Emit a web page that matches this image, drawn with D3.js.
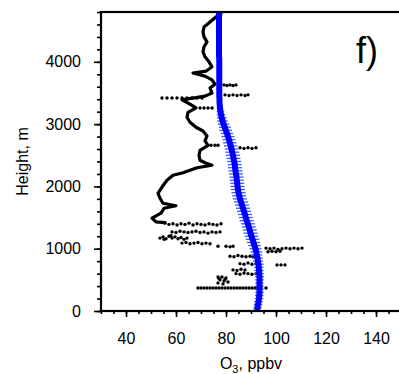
<!DOCTYPE html>
<html>
<head>
<meta charset="utf-8">
<script src="https://cdn.jsdelivr.net/npm/d3@7"></script>
<style>
  body { margin: 0; background: #fff; }
  text { font-family: "Liberation Sans", Arial, sans-serif; }
</style>
</head>
<body>
<div id="chart"></div>
<script>
// tick labels
const xTicks = [40, 60, 80, 100, 120, 140];
const yTicks = [0, 1000, 2000, 3000, 4000];

// observed profile, dense part [O3 ppbv, height m]
const obsProfile = [
  [78.0, 4770], [76.0, 4720], [73.6, 4640], [71.2, 4560], [70.8, 4480], [71.2, 4400],
  [72.4, 4320], [71.2, 4240], [70.8, 4160], [71.6, 4080], [73.2, 4000], [74.4, 3920],
  [72.0, 3850], [66.8, 3820], [71.6, 3770], [74.4, 3710], [75.6, 3640], [73.6, 3580],
  [74.4, 3500], [71.6, 3450], [62.4, 3390], [65.6, 3320], [68.0, 3260], [64.8, 3190],
  [64.4, 3110], [65.6, 3030], [68.0, 2950], [70.8, 2890], [72.4, 2810], [71.6, 2730],
  [72.8, 2660], [69.6, 2580], [69.2, 2500], [69.6, 2420], [71.6, 2380], [74.4, 2340],
  [68.4, 2300], [62.8, 2220], [58.8, 2180], [56.4, 2100], [54.4, 1990], [52.8, 1890],
  [53.6, 1810], [54.8, 1730], [60.0, 1690], [55.2, 1650], [54.8, 1620], [54.0, 1570],
  [50.4, 1490], [52.0, 1430], [55.6, 1420]
];

// observed profile, scattered samples [O3 ppbv, height m]
const obsDots = [
  [79.2, 3630], [80.4, 3620], [81.6, 3630], [82.8, 3620], [84.0, 3630],
  [79.6, 3470], [81.2, 3460], [82.8, 3470], [84.4, 3460], [86.0, 3470], [87.6, 3460], [88.8, 3470],
  [54.4, 3420], [56.4, 3420], [58.4, 3420], [60.4, 3420], [62.4, 3420], [64.4, 3420],
  [66.4, 3420], [68.4, 3420], [70.4, 3420],
  [69.6, 3260], [71.2, 3260], [72.8, 3260], [74.4, 3260],
  [74.0, 2660], [75.6, 2660], [76.8, 2660],
  [85.6, 2620], [87.2, 2610], [88.8, 2620], [90.4, 2610], [92.0, 2620],
  [55.6, 1410], [57.2, 1390], [58.8, 1400], [60.4, 1380], [62.0, 1400], [63.6, 1390],
  [65.2, 1410], [66.8, 1380], [68.4, 1400], [70.0, 1390], [71.6, 1380], [73.2, 1400],
  [74.8, 1390], [76.4, 1380], [78.0, 1400],
  [58.4, 1270], [60.0, 1260], [61.6, 1280], [63.2, 1270], [64.8, 1260], [66.4, 1270],
  [68.0, 1280], [69.6, 1260], [71.2, 1270], [72.8, 1250], [74.4, 1270], [76.0, 1260], [77.6, 1270],
  [53.6, 1170], [54.8, 1190], [56.0, 1160], [57.2, 1200], [58.4, 1170], [59.6, 1190],
  [60.8, 1160], [62.0, 1180], [63.2, 1150], [64.4, 1170], [55.2, 1150], [58.0, 1210],
  [62.4, 1090], [64.0, 1100], [65.6, 1080], [67.2, 1090], [68.8, 1100], [70.4, 1080],
  [72.0, 1090], [73.6, 1080],
  [76.8, 1040], [80.0, 1040], [81.6, 1030], [82.8, 1040],
  [96.0, 1010], [97.6, 1000], [99.2, 1010], [100.8, 990], [102.4, 1000], [104.0, 1010],
  [105.6, 1000], [107.2, 1010], [108.8, 1000], [110.4, 1010],
  [96.8, 950], [98.4, 960], [100.0, 950], [101.6, 960],
  [81.6, 880], [83.2, 870], [84.8, 890], [86.4, 880], [88.0, 870], [89.6, 880], [90.8, 870],
  [85.6, 760], [87.2, 750], [88.8, 770], [90.4, 750], [92.0, 760],
  [100.4, 740], [102.0, 740], [103.6, 740],
  [82.8, 660], [84.4, 650], [86.0, 670], [87.6, 660],
  [84.0, 600], [85.6, 590], [87.2, 610], [88.8, 600], [90.4, 590], [92.0, 600],
  [76.8, 545], [78.4, 545], [80.0, 530], [77.6, 500], [79.2, 480], [80.8, 465],
  [76.8, 450], [78.8, 435], [77.2, 520], [79.6, 505],
  [68.8, 370], [70.0, 370], [71.2, 370], [72.4, 370], [73.6, 370], [74.8, 370],
  [76.0, 370], [77.2, 370], [78.4, 370], [79.6, 370], [80.8, 370], [82.0, 370],
  [83.2, 370], [84.4, 370], [85.6, 370], [86.8, 370], [88.0, 370], [89.2, 370],
  [90.4, 370], [91.6, 370], [92.8, 370], [94.0, 370], [96.0, 370]
];

// model profile: levels (m), ozone (ppbv), spread (ppbv)
const modelLevels = [
  0, 50, 100, 150, 200, 250, 300, 350, 400, 450,
  500, 550, 600, 650, 700, 750, 800, 850, 900, 950,
  1000, 1050, 1100, 1150, 1200, 1250, 1300, 1350, 1400, 1450,
  1500, 1550, 1600, 1650, 1700, 1750, 1800, 1850, 1900, 1950,
  2000, 2050, 2100, 2150, 2200, 2250, 2300, 2350, 2400, 2450,
  2500, 2550, 2600, 2650, 2700, 2750, 2800, 2850, 2900, 2950,
  3000, 3050, 3100, 3150, 3200, 3250, 3300, 3350, 3400, 3450,
  3500, 3550, 3600, 3650, 3700, 3750, 3800, 3850, 3900, 3950,
  4000, 4050, 4100, 4150, 4200, 4250, 4300, 4350, 4400, 4450,
  4500, 4550, 4600, 4650, 4700, 4750, 4800
];
const modelO3 = [
  92.4, 92.6, 92.8, 93.0, 93.2, 93.3, 93.4, 93.4, 93.4, 93.4,
  93.4, 93.4, 93.3, 93.2, 93.1, 93.0, 92.8, 92.6, 92.3, 92.1,
  91.8, 91.4, 91.0, 90.6, 90.2, 89.8, 89.5, 89.1, 88.7, 88.3,
  87.9, 87.6, 87.2, 86.8, 86.4, 86.0, 85.6, 85.3, 85.0, 84.8,
  84.6, 84.5, 84.3, 84.2, 84.0, 83.8, 83.6, 83.5, 83.3, 83.0,
  82.8, 82.5, 82.2, 81.9, 81.5, 81.2, 80.8, 80.4, 79.9, 79.5,
  79.0, 78.6, 78.3, 78.0, 77.8, 77.6, 77.5, 77.4, 77.4, 77.3,
  77.3, 77.3, 77.3, 77.3, 77.3, 77.3, 77.3, 77.3, 77.3, 77.3,
  77.3, 77.3, 77.2, 77.2, 77.2, 77.2, 77.2, 77.2, 77.2, 77.2,
  77.2, 77.2, 77.2, 77.2, 77.2, 77.2, 77.2
];
const modelErr = [
  1.7, 1.7, 1.7, 1.7, 1.7, 1.7, 1.7, 1.7, 1.7, 1.7,
  1.7, 1.8, 1.8, 1.9, 1.9, 2.0, 2.0, 2.1, 2.2, 2.3,
  2.4, 2.5, 2.6, 2.7, 2.7, 2.8, 2.8, 2.8, 2.8, 2.8,
  2.8, 2.8, 2.8, 2.8, 2.8, 2.8, 2.8, 2.8, 2.8, 2.8,
  2.8, 2.8, 2.8, 2.8, 2.8, 2.8, 2.8, 2.8, 2.8, 2.8,
  2.8, 2.8, 2.7, 2.7, 2.7, 2.6, 2.6, 2.5, 2.5, 2.4,
  2.3, 2.1, 1.9, 1.7, 1.5, 1.3, 1.1, 0.9, 0.8, 0.8,
  0.8, 0.8, 0.8, 0.8, 0.8, 0.8, 0.8, 0.8, 0.8, 0.8,
  0.8, 0.8, 0.8, 0.8, 0.8, 0.8, 0.8, 0.8, 0.8, 0.8,
  0.8, 0.8, 0.8, 0.8, 0.8, 0.8, 0.8
];

const width = 399, height = 374;
const plotLeft = 101, plotTop = 12, plotRight = 401, plotBottom = 311;

const svg = d3.select('#chart').append('svg')
  .attr('width', width)
  .attr('height', height)
  .style('display', 'block');

const x = d3.scaleLinear().domain([30, 150]).range([plotLeft, plotRight]);
const y = d3.scaleLinear().domain([0, 4800]).range([plotBottom, plotTop]);

const model = modelLevels.map((h, i) => ({ h: h, v: modelO3[i], e: modelErr[i] }));

// observations
svg.append('path')
  .datum(obsProfile)
  .attr('fill', 'none')
  .attr('stroke', '#000')
  .attr('stroke-width', 3.2)
  .attr('stroke-linejoin', 'round')
  .attr('stroke-linecap', 'round')
  .attr('d', d3.line().x(d => x(d[0])).y(d => y(d[1])));

svg.append('g').selectAll('circle')
  .data(obsDots)
  .enter()
  .append('circle')
  .attr('cx', d => x(d[0]))
  .attr('cy', d => y(d[1]))
  .attr('r', 1.7)
  .attr('fill', '#000');

// model spread bars
svg.append('g').selectAll('line')
  .data(model)
  .enter()
  .append('line')
  .attr('x1', d => x(d.v - d.e))
  .attr('x2', d => x(d.v + d.e))
  .attr('y1', d => y(d.h))
  .attr('y2', d => y(d.h))
  .attr('stroke', '#3f58ff')
  .attr('stroke-width', 1.3);

// model line
svg.append('path')
  .datum(model)
  .attr('fill', 'none')
  .attr('stroke', '#0000ff')
  .attr('stroke-width', 6)
  .attr('d', d3.line().x(d => x(d.v)).y(d => y(d.h)));

// axes
function styleAxis(g) {
  g.select('.domain').remove();
  g.selectAll('.tick line').attr('stroke', '#000').attr('stroke-width', 1.6);
  g.selectAll('.tick text')
    .attr('fill', '#000')
    .style('font-size', '16px')
    .style('font-family', '"Liberation Sans", Arial, sans-serif');
}

svg.append('g')
  .attr('transform', `translate(${plotLeft},0)`)
  .call(d3.axisLeft(y).tickValues(d3.range(0, 4801, 200)).tickSize(4).tickFormat(''))
  .call(styleAxis);

svg.append('g')
  .attr('transform', `translate(${plotLeft},0)`)
  .call(d3.axisLeft(y).tickValues(yTicks).tickSize(7).tickPadding(13).tickFormat(d3.format('d')))
  .call(styleAxis);

svg.append('g')
  .attr('transform', `translate(0,${plotBottom})`)
  .call(d3.axisBottom(x).tickValues(d3.range(30, 151, 5)).tickSize(3).tickFormat(''))
  .call(styleAxis);

svg.append('g')
  .attr('transform', `translate(0,${plotBottom})`)
  .call(d3.axisBottom(x).tickValues(xTicks).tickSize(6).tickPadding(16).tickFormat(d3.format('d')))
  .call(styleAxis);

// frame
svg.append('rect')
  .attr('x', plotLeft)
  .attr('y', plotTop)
  .attr('width', plotRight - plotLeft)
  .attr('height', plotBottom - plotTop)
  .attr('fill', 'none')
  .attr('stroke', '#000')
  .attr('stroke-width', 2.2);

// titles
svg.append('text')
  .attr('transform', `translate(22,${(plotTop + plotBottom) / 2}) rotate(-90)`)
  .attr('text-anchor', 'middle')
  .attr('dominant-baseline', 'central')
  .style('font-size', '16px')
  .text('Height, m');

const xt = svg.append('text')
  .attr('x', 251)
  .attr('y', 369)
  .attr('text-anchor', 'middle')
  .style('font-size', '16px');
xt.append('tspan').text('O');
xt.append('tspan').attr('dy', 4).style('font-size', '11px').text('3');
xt.append('tspan').attr('dy', -4).text(', ppbv');

svg.append('text')
  .attr('x', 356)
  .attr('y', 63)
  .style('font-size', '36px')
  .text('f)');
</script>
</body>
</html>
